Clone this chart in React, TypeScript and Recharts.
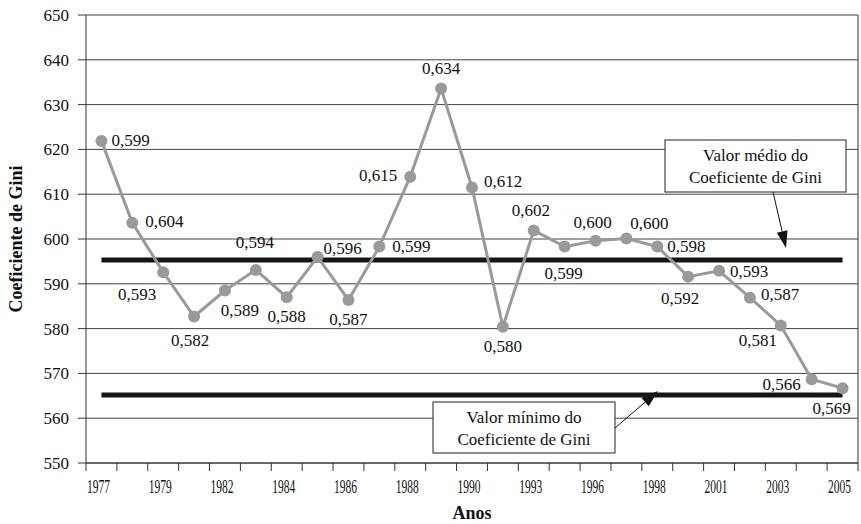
import React from "react";
import {
  LineChart,
  Line,
  XAxis,
  YAxis,
  CartesianGrid,
  ReferenceLine,
  LabelList,
  Customized,
} from "recharts";

// Years on the category axis (one point per survey year)
const years = [
  "1977", "1978", "1979", "1981", "1982", "1983", "1984", "1985", "1986",
  "1987", "1988", "1989", "1990", "1992", "1993", "1995", "1996", "1997",
  "1998", "1999", "2001", "2002", "2003", "2004", "2005",
];

// Plotted values
const giniValues = [
  621.9, 603.6, 592.6, 582.7, 588.5, 593.1, 587.0, 596.0, 586.4, 598.3,
  613.9, 633.6, 611.5, 580.4, 601.9, 598.3, 599.6, 600.1, 598.3, 591.6,
  592.9, 586.9, 580.7, 568.7, 566.7,
];

// Text printed beside each point
const pointLabels = [
  "0,599", "0,604", "0,593", "0,582", "0,589", "0,594", "0,588", "0,596",
  "0,587", "0,599", "0,615", "0,634", "0,612", "0,580", "0,602", "0,599",
  "0,600", "0,600", "0,598", "0,592", "0,593", "0,587", "0,581", "0,566",
  "0,569",
];

const yTicks = [550, 560, 570, 580, 590, 600, 610, 620, 630, 640, 650];
const meanLevel = 595.3;
const minLevel = 565.2;

const data = years.map((year, i) => ({
  year,
  gini: giniValues[i],
  label: pointLabels[i],
}));

// layout
const W = 861;
const H = 524;
const PL = 86;
const PR = 858;
const PT = 15;
const PB = 463;
const BAND = (PR - PL) / years.length;
const FONT = "Liberation Serif, Times New Roman, serif";

// where each point label sits relative to its dot: [dx, dy, anchor]
const labelPlacement: [number, number, string][] = [
  [10, 0, "start"], [13, -1, "start"], [-26, 22, "middle"], [-4, 24, "middle"],
  [15, 20, "middle"], [-1, -27, "middle"], [0, 19, "middle"], [6, -8, "start"],
  [0, 20, "middle"], [13, 0, "start"], [-13, -1, "end"], [0, -20, "middle"],
  [12, -6, "start"], [0, 20, "middle"], [-3, -20, "middle"], [-1, 27, "middle"],
  [-3, -18, "middle"], [23, -15, "middle"], [10, 0, "start"], [-8, 22, "middle"],
  [11, 1, "start"], [11, -3, "start"], [-23, 15, "middle"], [-11, 5, "end"],
  [-11, 20, "middle"],
];

const PointLabel = (props: any) => {
  const { x, y, index, value } = props;
  const p = labelPlacement[index] || [10, 0, "start"];
  return (
    <text
      x={x + p[0]}
      y={y + p[1]}
      textAnchor={p[2] as any}
      dominantBaseline="central"
      fontSize={17}
      fontFamily={FONT}
      fill="#111"
    >
      {value}
    </text>
  );
};

const YearTick = (props: any) => {
  const { x, y, index, payload } = props;
  return (
    <g>
      {index === 0 && (
        <line x1={x - BAND / 2} x2={x - BAND / 2} y1={y} y2={y + 8} stroke="#333" />
      )}
      <line x1={x + BAND / 2} x2={x + BAND / 2} y1={y} y2={y + 8} stroke="#333" />
      {index % 2 === 0 && (
        <text
          x={x - 3}
          y={y + 24}
          textAnchor="middle"
          dominantBaseline="central"
          fontSize={18}
          fontFamily={FONT}
          textLength={23}
          lengthAdjust="spacingAndGlyphs"
          fill="#111"
        >
          {payload.value}
        </text>
      )}
    </g>
  );
};

const Arrow = ({ x1, y1, x2, y2 }: any) => {
  const a = Math.atan2(y2 - y1, x2 - x1);
  const len = 17;
  const half = 5.5;
  const bx = x2 - len * Math.cos(a);
  const by = y2 - len * Math.sin(a);
  const px = -Math.sin(a) * half;
  const py = Math.cos(a) * half;
  return (
    <g>
      <line x1={x1} y1={y1} x2={bx} y2={by} stroke="#111" strokeWidth={1} />
      <polygon
        points={`${x2},${y2} ${bx + px},${by + py} ${bx - px},${by - py}`}
        fill="#111"
      />
    </g>
  );
};

const NoteBox = ({ x, y, w, h, lines }: any) => (
  <g>
    <rect x={x} y={y} width={w} height={h} fill="#fff" stroke="#222" strokeWidth={1} />
    {lines.map((t: string, i: number) => (
      <text
        key={i}
        x={x + w / 2}
        y={y + 15 + i * 22}
        textAnchor="middle"
        dominantBaseline="central"
        fontSize={17}
        fontFamily={FONT}
        fill="#111"
      >
        {t}
      </text>
    ))}
  </g>
);

const Overlay = () => (
  <g>
    {/* right frame */}
    <line x1={PR} x2={PR} y1={PT} y2={PB} stroke="#333" />
    <NoteBox x={665} y={140} w={181} h={52} lines={["Valor médio do", "Coeficiente de Gini"]} />
    <Arrow x1={773} y1={192} x2={786} y2={248} />
    <NoteBox x={433} y={402} w={182} h={51} lines={["Valor mínimo do", "Coeficiente de Gini"]} />
    <Arrow x1={615} y1={428} x2={658} y2={391} />
    <text
      x={16}
      y={(PT + PB) / 2}
      transform={`rotate(-90 16 ${(PT + PB) / 2})`}
      textAnchor="middle"
      dominantBaseline="central"
      fontSize={18}
      fontWeight="bold"
      fontFamily={FONT}
      fill="#111"
    >
      Coeficiente de Gini
    </text>
    <text
      x={(PL + PR) / 2}
      y={513}
      textAnchor="middle"
      dominantBaseline="central"
      fontSize={18}
      fontWeight="bold"
      fontFamily={FONT}
      fill="#111"
    >
      Anos
    </text>
  </g>
);

const GiniChart = () => {
  return (
    <div style={{ position: "absolute", left: 0, top: 0, width: W, height: H, background: "#fff" }}>
      <LineChart
        width={W}
        height={H}
        data={data}
        margin={{ top: PT, right: W - PR, bottom: 0, left: 0 }}
      >
        <CartesianGrid vertical={false} stroke="#444" strokeWidth={1} />
        <XAxis
          dataKey="year"
          height={H - PB}
          interval={0}
          padding={{ left: BAND / 2, right: BAND / 2 }}
          tickLine={false}
          tickSize={0}
          tickMargin={0}
          axisLine={{ stroke: "#333" }}
          tick={<YearTick />}
        />
        <YAxis
          width={PL}
          domain={[550, 650]}
          ticks={yTicks}
          interval={0}
          tickSize={8}
          tickMargin={9}
          axisLine={{ stroke: "#333" }}
          tickLine={{ stroke: "#333" }}
          tick={{ fontSize: 17, fontFamily: FONT, fill: "#111" }}
        />
        <ReferenceLine
          segment={[
            { x: years[0], y: meanLevel },
            { x: years[years.length - 1], y: meanLevel },
          ]}
          stroke="#151515"
          strokeWidth={5}
        />
        <ReferenceLine
          segment={[
            { x: years[0], y: minLevel },
            { x: years[years.length - 1], y: minLevel },
          ]}
          stroke="#151515"
          strokeWidth={5}
        />
        <Line
          type="linear"
          dataKey="gini"
          stroke="#9a9a9a"
          strokeWidth={3}
          dot={{ r: 6, fill: "#9a9a9a", stroke: "none" }}
          activeDot={false}
          isAnimationActive={false}
        >
          <LabelList dataKey="label" content={<PointLabel />} />
        </Line>
        <Customized component={Overlay} />
      </LineChart>
    </div>
  );
};

export default function App() {
  return <GiniChart />;
}
